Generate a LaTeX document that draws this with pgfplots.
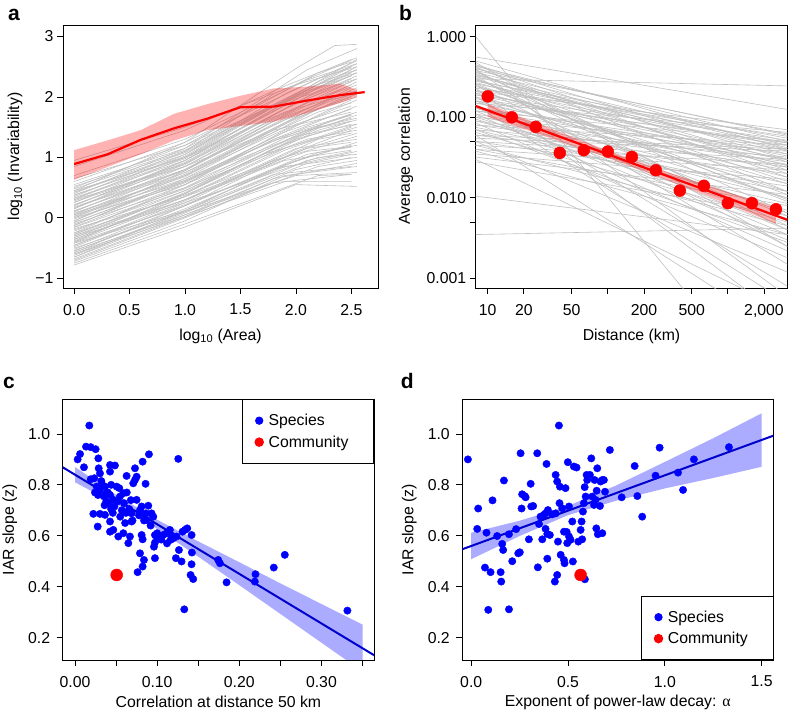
\documentclass[border=0pt]{standalone}
\usepackage{fontspec}
\setmainfont{Liberation Sans}
\newfontfamily\serifgreek{Liberation Serif}
\usepackage{pgfplots}
\pgfplotsset{compat=1.18}
\definecolor{glc}{RGB}{192,192,192}
\definecolor{fitblue}{RGB}{0,0,205}
\pgfplotsset{
  rbase/.style={
    scale only axis, anchor=south west,
    axis line style={line width=0.8pt},
    tick align=outside, xtick pos=bottom, ytick pos=left,
    major tick length=6pt,
    every tick/.style={black, line width=0.8pt},
    ticklabel style={font=\fontsize{15.8}{19}\selectfont},
    xticklabel style={yshift=-6.5pt},
    label style={font=\fontsize{15.8}{19}\selectfont},
    /pgf/number format/assume math mode=true,
    legend cell align=left,
  },
  gl/.style={glc, line width=0.6pt},
  dotleg/.style={legend image code/.code={\draw[##1] plot coordinates {(0pt,0pt)}; \path (-6pt,0pt) (7pt,0pt);}},
  dotlegbig/.style={legend image code/.code={\draw[##1,mark size=4.3pt] plot coordinates {(0pt,0pt)}; \path (-6pt,0pt) (7pt,0pt);}},
  rleg/.style={draw=black, line width=0.8pt, font=\fontsize{15.8}{19}\selectfont,
    inner xsep=10.6pt, inner ysep=12.5pt, row sep=4.5pt},
}
\begin{document}
\begin{tikzpicture}
\useasboundingbox (0pt,0pt) rectangle (788pt,713pt);
% ---------------- panel a ----------------
\begin{axis}[rbase, at={(63pt,425pt)}, width=315pt, height=263pt,
  xmin=-0.10, xmax=2.74, ymin=-1.16, ymax=3.19,
  xtick={0,0.5,1,1.5,2,2.5}, xticklabels={0.0,0.5,1.0,1.5,2.0,2.5},
  ytick={-1,0,1,2,3}, yticklabels={−1,0,1,2,3},
  xlabel={log\textsubscript{10} (Area)},
  ylabel={log\textsubscript{10} (Invariability)},
  xlabel style={at={([yshift=-48pt]axis description cs:0.5,0)}, anchor=center},
  ylabel style={at={([xshift=-48pt]axis description cs:0,0.5)}, anchor=center},
]
\addplot[gl] coordinates {(0,-0.78)(1,-0.15)(2,0.55)(2.55,0.52)};
\addplot[gl] coordinates {(0,-0.70)(1,0.00)(1.8,0.58)(2.5,0.72)};
\addplot[gl] coordinates {(0,-0.65)(1,0.05)(2.2,0.85)(2.55,0.95)};
\addplot[gl] coordinates {(0,-0.60)(1,0.10)(2.1,0.90)(2.5,1.05)};
\addplot[gl] coordinates {(0,-0.55)(1,0.15)(1.9,0.85)(2.55,1.00)};
\addplot[gl] coordinates {(0,-0.52)(1,0.20)(2,0.95)(2.5,1.20)};
\addplot[gl] coordinates {(0,-0.48)(1,0.25)(1.8,0.95)(2.55,1.35)};
\addplot[gl] coordinates {(0,-0.45)(1,0.22)(2.2,1.08)(2.5,1.17)};
\addplot[gl] coordinates {(0,-0.40)(1,0.30)(2.1,1.15)(2.55,1.40)};
\addplot[gl] coordinates {(0,-0.38)(1,0.35)(1.9,1.12)(2.5,1.50)};
\addplot[gl] coordinates {(0,-0.35)(1,0.30)(2,1.15)(2.55,1.30)};
\addplot[gl] coordinates {(0,-0.30)(1,0.40)(1.8,1.15)(2.5,1.60)};
\addplot[gl] coordinates {(0,-0.28)(1,0.45)(2.2,1.48)(2.55,1.70)};
\addplot[gl] coordinates {(0,-0.25)(1,0.38)(2.1,1.15)(2.5,1.25)};
\addplot[gl] coordinates {(0,-0.22)(1,0.50)(1.9,1.32)(2.55,1.75)};
\addplot[gl] coordinates {(0,-0.20)(1,0.45)(2,1.30)(2.5,1.55)};
\addplot[gl] coordinates {(0,-0.15)(1,0.55)(1.8,1.30)(2.55,1.85)};
\addplot[gl] coordinates {(0,-0.12)(1,0.60)(2.2,1.70)(2.5,1.95)};
\addplot[gl] coordinates {(0,-0.10)(1,0.50)(2.1,1.30)(2.55,1.45)};
\addplot[gl] coordinates {(0,-0.08)(1,0.62)(1.9,1.42)(2.5,1.80)};
\addplot[gl] coordinates {(0,-0.05)(1,0.70)(2,1.65)(2.55,2.05)};
\addplot[gl] coordinates {(0,-0.02)(1,0.60)(1.8,1.28)(2.5,1.65)};
\addplot[gl] coordinates {(0,0.00)(1,0.75)(2.2,1.85)(2.55,2.10)};
\addplot[gl] coordinates {(0,0.02)(1,0.65)(2.1,1.50)(2.5,1.70)};
\addplot[gl] coordinates {(0,0.05)(1,0.80)(1.9,1.65)(2.55,2.15)};
\addplot[gl] coordinates {(0,0.08)(1,0.70)(2,1.55)(2.5,1.85)};
\addplot[gl] coordinates {(0,0.10)(1,0.85)(1.8,1.65)(2.55,2.30)};
\addplot[gl] coordinates {(0,0.12)(1,0.75)(2.2,1.75)(2.5,1.90)};
\addplot[gl] coordinates {(0,0.15)(1,0.90)(2.1,2.00)(2.55,2.35)};
\addplot[gl] coordinates {(0,0.18)(1,0.80)(1.9,1.62)(2.5,2.00)};
\addplot[gl] coordinates {(0,0.20)(1,0.95)(2,2.00)(2.55,2.45)};
\addplot[gl] coordinates {(0,0.22)(1,0.85)(1.8,1.60)(2.5,2.10)};
\addplot[gl] coordinates {(0,0.25)(1,1.00)(2.2,2.25)(2.55,2.55)};
\addplot[gl] coordinates {(0,0.28)(1,0.90)(2.1,1.90)(2.5,2.20)};
\addplot[gl] coordinates {(0,0.30)(1,1.05)(1.9,2.05)(2.55,2.60)};
\addplot[gl] coordinates {(0,0.32)(1,0.95)(2,1.90)(2.5,2.25)};
\addplot[gl] coordinates {(0,0.35)(1,1.10)(1.8,2.05)(2.55,2.65)};
\addplot[gl] coordinates {(0,0.38)(1,1.00)(2.2,2.15)(2.5,2.40)};
\addplot[gl] coordinates {(0,0.40)(1,1.15)(2.1,2.45)(2.55,2.80)};
\addplot[gl] coordinates {(0,0.42)(1,1.05)(1.9,1.95)(2.5,2.45)};
\addplot[gl] coordinates {(0,0.45)(1,1.25)(2,2.47)(2.35,2.85)(2.55,2.87)};
\addplot[gl] coordinates {(0,0.48)(1,1.10)(1.8,1.85)(2.55,2.30)};
\addplot[gl] coordinates {(0,0.50)(1,1.20)(2.2,2.40)(2.5,2.58)};
\addplot[gl] coordinates {(0,0.55)(1,1.15)(2.1,2.15)(2.55,2.40)};
\addplot[gl] coordinates {(0,-0.60)(1,0.02)(1.9,0.60)(2.5,0.60)};
\addplot[gl] coordinates {(0,-0.50)(1,0.10)(2,0.70)(2.55,0.75)};
\addplot[gl] coordinates {(0,-0.42)(1,0.12)(1.8,0.72)(2.5,0.85)};
\addplot[gl] coordinates {(0,-0.32)(1,0.25)(2.2,1.00)(2.55,1.05)};
\addplot[gl] coordinates {(0,-0.18)(1,0.35)(2.1,1.10)(2.5,1.18)};
\addplot[gl] coordinates {(0,-0.65)(1,0.12)(1.9,0.88)(2.55,1.25)};
\addplot[gl] coordinates {(0,-0.58)(1,0.20)(2,1.10)(2.5,1.45)};
\addplot[gl] coordinates {(0,-0.05)(1,0.78)(1.8,1.60)(2.55,2.25)};
\addplot[gl] coordinates {(0,0.60)(1,1.25)(2.2,2.30)(2.5,2.50)};
\addplot[gl] coordinates {(0,0.70)(1,1.30)(2.1,2.28)(2.55,2.55)};
\addplot[gl] coordinates {(0,0.85)(1,1.45)(1.9,2.18)(2.5,2.62)};
\addplot[gl] coordinates {(0,0.05)(1,0.62)(2,1.35)(2.55,1.55)};
\addplot[gl] coordinates {(0,0.30)(1,0.85)(1.8,1.45)(2.5,1.75)};
\addplot[gl] coordinates {(0,-0.40)(1,0.40)(2.2,1.45)(2.55,1.62)};
\addplot[gl] coordinates {(0,0.15)(1,0.95)(2.1,2.12)(2.5,2.50)};
\addplot[gl] coordinates {(0,-0.25)(1,0.55)(1.9,1.45)(2.55,1.95)};
\addplot[gl] coordinates {(0,-0.72)(1,-0.05)(1.9,0.70)(2.55,0.85)};
\addplot[gl] coordinates {(0,-0.62)(1,0.08)(2.1,0.95)(2.5,1.10)};
\addplot[gl] coordinates {(0,-0.54)(1,0.12)(1.8,0.80)(2.55,1.10)};
\addplot[gl] coordinates {(0,-0.46)(1,0.28)(2.2,1.30)(2.5,1.40)};
\addplot[gl] coordinates {(0,-0.36)(1,0.36)(1.9,1.15)(2.55,1.55)};
\addplot[gl] coordinates {(0,-0.33)(1,0.42)(2.3,1.60)(2.5,1.72)};
\addplot[gl] coordinates {(0,-0.27)(1,0.40)(1.7,1.05)(2.55,1.50)};
\addplot[gl] coordinates {(0,-0.16)(1,0.48)(2.1,1.45)(2.5,1.60)};
\addplot[gl] coordinates {(0,-0.13)(1,0.65)(2.2,1.80)(2.55,2.00)};
\addplot[gl] coordinates {(0,-0.07)(1,0.58)(1.8,1.30)(2.5,1.70)};
\addplot[gl] coordinates {(0,0.03)(1,0.72)(2.3,1.95)(2.55,2.05)};
\addplot[gl] coordinates {(0,0.07)(1,0.68)(1.9,1.55)(2.5,2.05)};
\addplot[gl] coordinates {(0,0.11)(1,0.80)(2.1,1.90)(2.55,2.20)};
\addplot[gl] coordinates {(0,0.17)(1,0.78)(1.7,1.45)(2.5,2.15)};
\addplot[gl] coordinates {(0,0.21)(1,0.92)(2.2,2.10)(2.55,2.40)};
\addplot[gl] coordinates {(0,0.26)(1,0.88)(1.9,1.80)(2.5,2.30)};
\addplot[gl] coordinates {(0,0.33)(1,0.98)(2.1,2.05)(2.55,2.50)};
\addplot[gl] coordinates {(0,0.37)(1,1.02)(1.8,1.85)(2.5,2.35)};
\addplot[gl] coordinates {(0,0.43)(1,1.08)(2.3,2.30)(2.55,2.45)};
\addplot[gl] coordinates {(0,0.52)(1,1.12)(2.0,2.05)(2.55,2.62)};
\addplot[gl] coordinates {(0,-0.75)(1,-0.10)(2.2,0.70)(2.5,0.72)};
\addplot[gl] coordinates {(0,-0.68)(1,0.02)(1.8,0.65)(2.55,0.90)};
\addplot[gl] coordinates {(0,-0.57)(1,0.05)(2.0,0.80)(2.5,1.00)};
\addplot[gl] coordinates {(0,-0.41)(1,0.20)(2.1,1.05)(2.55,1.20)};
\addplot[gl] coordinates {(0,-0.30)(1,0.30)(1.9,0.95)(2.5,1.12)};
\addplot[gl] coordinates {(0,0.00)(1,0.55)(2.2,1.50)(2.55,1.65)};
\addplot[gl] coordinates {(0,0.45)(1,1.00)(1.9,1.75)(2.55,2.10)};
\addplot[gl] coordinates {(0,0.65)(1,1.20)(2.1,2.10)(2.5,2.35)};
\addplot[gl] coordinates {(0,0.95)(1,1.50)(2.0,2.20)(2.55,2.50)};
\addplot[fill=red, fill opacity=0.3, draw=none] coordinates {
 (0,1.12)(0.3,1.28)(0.6,1.45)(0.9,1.72)(1.2,1.88)(1.5,2.02)(1.8,2.14)(2.1,2.17)(2.4,2.22)(2.55,2.12)
 (2.55,2.00)(2.4,1.90)(2.1,1.73)(1.8,1.59)(1.5,1.52)(1.2,1.45)(0.9,1.28)(0.6,1.05)(0.3,0.84)(0,0.63)} --cycle;
\addplot[red, line width=2.2pt] coordinates {
 (0,0.89)(0.3,1.05)(0.6,1.29)(0.9,1.48)(1.2,1.64)(1.5,1.83)(1.8,1.84)(2.1,1.94)(2.4,2.03)(2.62,2.08)};
\end{axis}
% ---------------- panel b ----------------
\begin{axis}[rbase, at={(475.7pt,425pt)}, width=311.6pt, height=263pt,
  xmode=log, ymode=log,
  xmin=7.94, xmax=3126, ymin=0.00076, ymax=1.397,
  xtick={10,20,50,100,200,500,1000,2000}, xticklabels={10,20,50,,200,500,,{2,000}},
  ytick={0.001,0.005,0.01,0.05,0.1,0.5,1}, yticklabels={0.001,,0.010,,0.100,,1.000},
  minor tick num=0,
  xlabel={Distance (km)},
  ylabel={Average correlation},
  xlabel style={at={([yshift=-48pt]axis description cs:0.5,0)}, anchor=center},
  ylabel style={at={([xshift=-70pt]axis description cs:0,0.5)}, anchor=center},
]
\addplot[gl] coordinates {(7.94,0.45)(3126,0.030)};
\addplot[gl] coordinates {(7.94,0.42)(3126,0.012)};
\addplot[gl] coordinates {(7.94,0.40)(3126,0.060)};
\addplot[gl] coordinates {(7.94,0.38)(3126,0.004)};
\addplot[gl] coordinates {(7.94,0.36)(3126,0.045)};
\addplot[gl] coordinates {(7.94,0.35)(3126,0.020)};
\addplot[gl] coordinates {(7.94,0.33)(3126,0.0015)};
\addplot[gl] coordinates {(7.94,0.32)(3126,0.035)};
\addplot[gl] coordinates {(7.94,0.30)(3126,0.245)};
\addplot[gl] coordinates {(7.94,0.30)(3126,0.009)};
\addplot[gl] coordinates {(7.94,0.28)(3126,0.055)};
\addplot[gl] coordinates {(7.94,0.27)(3126,0.025)};
\addplot[gl] coordinates {(7.94,0.25)(3126,0.0025)};
\addplot[gl] coordinates {(7.94,0.24)(3126,0.040)};
\addplot[gl] coordinates {(7.94,0.22)(3126,0.015)};
\addplot[gl] coordinates {(7.94,0.21)(3126,0.070)};
\addplot[gl] coordinates {(7.94,0.20)(3126,0.006)};
\addplot[gl] coordinates {(7.94,0.19)(3126,0.030)};
\addplot[gl] coordinates {(7.94,0.18)(3126,0.0008)};
\addplot[gl] coordinates {(7.94,0.17)(3126,0.045)};
\addplot[gl] coordinates {(7.94,0.16)(3126,0.018)};
\addplot[gl] coordinates {(7.94,0.15)(3126,0.065)};
\addplot[gl] coordinates {(7.94,0.14)(3126,0.010)};
\addplot[gl] coordinates {(7.94,0.13)(3126,0.035)};
\addplot[gl] coordinates {(7.94,0.12)(3126,0.003)};
\addplot[gl] coordinates {(7.94,0.12)(3126,0.050)};
\addplot[gl] coordinates {(7.94,0.11)(3126,0.022)};
\addplot[gl] coordinates {(7.94,0.10)(3126,0.040)};
\addplot[gl] coordinates {(7.94,0.10)(3126,0.007)};
\addplot[gl] coordinates {(7.94,0.09)(3126,0.028)};
\addplot[gl] coordinates {(7.94,0.085)(3126,0.0018)};
\addplot[gl] coordinates {(7.94,0.08)(3126,0.045)};
\addplot[gl] coordinates {(7.94,0.075)(3126,0.012)};
\addplot[gl] coordinates {(7.94,0.07)(3126,0.032)};
\addplot[gl] coordinates {(7.94,0.065)(3126,0.005)};
\addplot[gl] coordinates {(7.94,0.06)(3126,0.020)};
\addplot[gl] coordinates {(7.94,0.055)(3126,0.038)};
\addplot[gl] coordinates {(7.94,0.05)(3126,0.0012)};
\addplot[gl] coordinates {(7.94,0.05)(3126,0.014)};
\addplot[gl] coordinates {(7.94,0.045)(3126,0.026)};
\addplot[gl] coordinates {(7.94,0.04)(3126,0.008)};
\addplot[gl] coordinates {(7.94,0.038)(3126,0.0035)};
\addplot[gl] coordinates {(7.94,0.035)(3126,0.017)};
\addplot[gl] coordinates {(7.94,0.03)(3126,0.0004)};
\addplot[gl] coordinates {(7.94,0.028)(3126,0.006)};
\addplot[gl] coordinates {(7.94,0.56)(3126,0.125)};
\addplot[gl] coordinates {(7.94,1.0)(3126,0.00002)};
\addplot[gl] coordinates {(7.94,0.0035)(3126,0.0042)};
\addplot[gl] coordinates {(7.94,0.0105)(3126,0.0035)};
\addplot[gl] coordinates {(7.94,0.40)(3126,0.0006)};
\addplot[gl] coordinates {(7.94,0.23)(3126,0.0003)};
\addplot[gl] coordinates {(7.94,0.14)(3126,0.0005)};
\addplot[gl] coordinates {(7.94,0.06)(3126,0.0002)};
\addplot[gl] coordinates {(7.94,0.33)(3126,0.042)};
\addplot[gl] coordinates {(7.94,0.26)(3126,0.048)};
\addplot[gl] coordinates {(7.94,0.19)(3126,0.052)};
\addplot[gl] coordinates {(7.94,0.29)(3126,0.016)};
\addplot[gl] coordinates {(7.94,0.44)(3126,0.022)};
\addplot[gl] coordinates {(7.94,0.11)(3126,0.0022)};
\addplot[gl] coordinates {(7.94,0.16)(3126,0.004)};
\addplot[gl] coordinates {(7.94,0.20)(3126,0.033)};
\addplot[gl] coordinates {(7.94,0.09)(3126,0.010)};
\addplot[gl] coordinates {(7.94,0.07)(3126,0.0028)};
\addplot[gl] coordinates {(7.94,0.38)(3126,0.062)};
\addplot[gl] coordinates {(7.94,0.15)(3126,0.026)};
\addplot[gl] coordinates {(7.94,0.25)(3126,0.011)};
\addplot[gl] coordinates {(7.94,0.13)(3126,0.0065)};
\addplot[gl] coordinates {(7.94,0.43)(3126,0.050)};
\addplot[gl] coordinates {(7.94,0.41)(3126,0.018)};
\addplot[gl] coordinates {(7.94,0.37)(3126,0.0065)};
\addplot[gl] coordinates {(7.94,0.34)(3126,0.028)};
\addplot[gl] coordinates {(7.94,0.31)(3126,0.0045)};
\addplot[gl] coordinates {(7.94,0.29)(3126,0.038)};
\addplot[gl] coordinates {(7.94,0.26)(3126,0.0095)};
\addplot[gl] coordinates {(7.94,0.23)(3126,0.058)};
\addplot[gl] coordinates {(7.94,0.21)(3126,0.024)};
\addplot[gl] coordinates {(7.94,0.18)(3126,0.012)};
\addplot[gl] coordinates {(7.94,0.16)(3126,0.048)};
\addplot[gl] coordinates {(7.94,0.14)(3126,0.0035)};
\addplot[gl] coordinates {(7.94,0.12)(3126,0.030)};
\addplot[gl] coordinates {(7.94,0.105)(3126,0.015)};
\addplot[gl] coordinates {(7.94,0.095)(3126,0.0055)};
\addplot[gl] coordinates {(7.94,0.08)(3126,0.024)};
\addplot[gl] coordinates {(7.94,0.07)(3126,0.0085)};
\addplot[gl] coordinates {(7.94,0.06)(3126,0.040)};
\addplot[gl] coordinates {(7.94,0.05)(3126,0.030)};
\addplot[gl] coordinates {(7.94,0.045)(3126,0.0045)};
\addplot[gl] coordinates {(7.94,0.04)(3126,0.022)};
\addplot[gl] coordinates {(7.94,0.032)(3126,0.011)};
\addplot[gl] coordinates {(7.94,0.50)(3126,0.040)};
\addplot[gl] coordinates {(7.94,0.48)(3126,0.0025)};
\addplot[fill=red, fill opacity=0.3, draw=none] coordinates {
 (10,0.1464)(31.6,0.0746)(100,0.0385)(316,0.02084)(1000,0.01178)(2512,0.00755)
 (2512,0.00476)(1000,0.00834)(316,0.01656)(100,0.0313)(31.6,0.0566)(10,0.1013)} --cycle;
\addplot[red, line width=2.2pt] coordinates {(7.94,0.138)(3126,0.00533)};
\addplot[only marks, mark=*, mark size=6pt, red] coordinates {
 (10,0.182)(15.85,0.100)(25.12,0.076)(39.81,0.0361)(63.1,0.039)(100,0.0375)(158.5,0.0322)
 (251.2,0.022)(398.1,0.0123)(631,0.0141)(1000,0.0086)(1585,0.0086)(2512,0.0072)};
\end{axis}
% ---------------- panel c ----------------
\begin{axis}[rbase, at={(62.7pt,53pt)}, width=311.3pt, height=260.7pt,
  xmin=-0.015, xmax=0.364, ymin=0.112, ymax=1.136,
  xtick={0,0.05,0.1,0.15,0.2,0.25,0.3,0.35}, xticklabels={0.00,,0.10,,0.20,,0.30,},
  ytick={0.2,0.4,0.6,0.8,1.0}, yticklabels={0.2,0.4,0.6,0.8,1.0},
  yticklabel style={xshift=-3pt},
  xlabel={Correlation at distance 50 km},
  ylabel={IAR slope (z)},
  xlabel style={at={([yshift=-42pt]axis description cs:0.5,0)}, anchor=center},
  ylabel style={at={([xshift=-53pt]axis description cs:0,0.5)}, anchor=center},
  legend style={rleg, at={(1,1)}, anchor=north east},
]
\addplot[fill=blue, fill opacity=0.33, draw=none, forget plot] coordinates {
 (0,0.870)(0.05,0.761)(0.1,0.663)(0.15,0.578)(0.2,0.496)(0.25,0.413)(0.3,0.332)(0.35,0.251)
 (0.35,0.067)(0.3,0.180)(0.25,0.293)(0.2,0.406)(0.15,0.518)(0.1,0.627)(0.05,0.725)(0,0.810)} --cycle;
\addplot[fitblue, line width=2pt, forget plot] coordinates {(-0.015,0.869)(0.364,0.131)};
\addplot[only marks, mark=*, mark size=3.7pt, blue, dotleg] coordinates {
 (0.0174,1.033)(0.0032,0.900)(0.0061,0.921)(0.0109,0.869)(0.0134,0.950)(0.0191,0.948)
 (0.0251,0.940)(0.0284,0.904)(0.0191,0.822)(0.0235,0.826)(0.0264,0.793)(0.0243,0.770)
 (0.0288,0.865)(0.0304,0.845)(0.0324,0.806)(0.0365,0.793)(0.0223,0.686)(0.0276,0.636)
 (0.0304,0.686)(0.0365,0.682)(0.0426,0.878)(0.0486,0.876)(0.0426,0.852)(0.0385,0.767)
 (0.0426,0.760)(0.0466,0.741)(0.0405,0.728)(0.0507,0.793)(0.0539,0.787)(0.0547,0.754)
 (0.0588,0.767)(0.0596,0.728)(0.0426,0.656)(0.0426,0.616)(0.0466,0.623)(0.0527,0.597)
 (0.0588,0.610)(0.0628,0.835)(0.0669,0.597)(0.0649,0.571)(0.0689,0.688)(0.0689,0.656)
 (0.0709,0.806)(0.0730,0.819)(0.0750,0.832)(0.0730,0.865)(0.0750,0.741)(0.0791,0.701)
 (0.0811,0.715)(0.0823,0.891)(0.0859,0.804)(0.0900,0.920)(0.0872,0.662)(0.0892,0.718)
 (0.0864,0.688)(0.0932,0.688)(0.0953,0.675)(0.0791,0.531)(0.0811,0.603)(0.0823,0.586)
 (0.0839,0.505)(0.0823,0.479)(0.0762,0.457)(0.0973,0.603)(0.0973,0.573)(0.0961,0.557)
 (0.0993,0.597)(0.1034,0.597)(0.1074,0.603)(0.0973,0.512)(0.1115,0.610)(0.1155,0.623)
 (0.1164,0.584)(0.1196,0.590)(0.1236,0.597)(0.1257,0.902)(0.1228,0.512)(0.1265,0.544)
 (0.1297,0.499)(0.1309,0.616)(0.1338,0.623)(0.1366,0.629)(0.1419,0.603)(0.1423,0.534)
 (0.1419,0.488)(0.1407,0.446)(0.1439,0.430)(0.1330,0.311)(0.1743,0.505)(0.1764,0.492)
 (0.1845,0.417)(0.2197,0.449)(0.2189,0.420)(0.2420,0.475)(0.2554,0.525)(0.3316,0.306)
 (0.030,0.780)(0.035,0.755)(0.038,0.735)(0.044,0.705)(0.048,0.715)(0.052,0.735)
 (0.057,0.700)(0.062,0.690)(0.066,0.705)(0.070,0.660)(0.078,0.680)(0.084,0.660)
 (0.092,0.640)(0.100,0.610)(0.105,0.585)(0.112,0.570)(0.118,0.600)(0.032,0.815)
 (0.040,0.770)(0.046,0.690)(0.055,0.675)(0.061,0.650)(0.068,0.740)(0.036,0.720)
 (0.028,0.760)(0.044,0.800)(0.063,0.770)};
\addlegendentry{Species}
\addplot[only marks, mark=*, mark size=6pt, red, dotlegbig] coordinates {(0.0507,0.446)};
\addlegendentry{Community\hspace*{12.5pt}}
\end{axis}
% ---------------- panel d ----------------
\begin{axis}[rbase, at={(462.3pt,53pt)}, width=311pt, height=260.7pt,
  xmin=-0.046, xmax=1.56, ymin=0.112, ymax=1.136,
  xtick={0,0.5,1,1.5}, xticklabels={0.0,0.5,1.0,1.5},
  ytick={0.2,0.4,0.6,0.8,1.0}, yticklabels={0.2,0.4,0.6,0.8,1.0},
  yticklabel style={xshift=-3pt},
  xlabel={Exponent of power-law decay: {\serifgreek α}},
  ylabel={IAR slope (z)},
  xlabel style={at={([yshift=-42pt]axis description cs:0.5,0)}, anchor=center},
  ylabel style={at={([xshift=-53pt]axis description cs:0,0.5)}, anchor=center},
  legend style={rleg, at={(1,0)}, anchor=south east},
]
\addplot[fill=blue, fill opacity=0.33, draw=none, forget plot] coordinates {
 (0,0.612)(0.25,0.659)(0.5,0.717)(0.75,0.798)(1.0,0.890)(1.25,0.983)(1.5,1.081)
 (1.5,0.871)(1.25,0.827)(1.0,0.786)(0.75,0.738)(0.5,0.681)(0.25,0.599)(0,0.508)} --cycle;
\addplot[fitblue, line width=2pt, forget plot] coordinates {(-0.046,0.547)(1.56,0.993)};
\addplot[only marks, mark=*, mark size=3.7pt, blue, dotleg] coordinates {
 (-0.017,0.900)(0.036,0.707)(0.031,0.627)(0.079,0.612)(0.071,0.475)(0.100,0.457)
 (0.110,0.739)(0.134,0.599)(0.152,0.457)(0.155,0.420)(0.169,0.817)(0.160,0.568)
 (0.165,0.544)(0.212,0.500)(0.195,0.606)(0.232,0.626)(0.243,0.531)(0.251,0.535)
 (0.255,0.924)(0.263,0.763)(0.260,0.707)(0.276,0.756)(0.281,0.751)(0.298,0.586)
 (0.307,0.804)(0.310,0.715)(0.320,0.717)(0.341,0.924)(0.344,0.476)(0.350,0.646)
 (0.358,0.675)(0.367,0.586)(0.375,0.682)(0.384,0.688)(0.389,0.882)(0.384,0.627)
 (0.396,0.701)(0.393,0.607)(0.393,0.510)(0.406,0.603)(0.418,0.684)(0.436,0.839)
 (0.444,0.813)(0.436,0.688)(0.432,0.420)(0.444,0.446)(0.448,0.577)(0.453,1.033)
 (0.456,0.728)(0.458,0.793)(0.462,0.525)(0.470,0.708)(0.479,0.505)(0.482,0.492)
 (0.487,0.787)(0.479,0.616)(0.493,0.615)(0.496,0.571)(0.499,0.889)(0.505,0.715)
 (0.505,0.597)(0.513,0.584)(0.522,0.656)(0.525,0.499)(0.530,0.872)(0.544,0.868)
 (0.553,0.577)(0.565,0.623)(0.570,0.656)(0.573,0.586)(0.577,0.695)(0.582,0.728)
 (0.586,0.791)(0.591,0.754)(0.596,0.839)(0.599,0.819)(0.613,0.839)(0.620,0.904)
 (0.625,0.754)(0.637,0.819)(0.634,0.721)(0.642,0.741)(0.646,0.629)(0.648,0.777)
 (0.651,0.865)(0.654,0.606)(0.665,0.717)(0.668,0.813)(0.677,0.819)(0.685,0.819)
 (0.691,0.773)(0.677,0.610)(0.716,0.937)(0.777,0.751)(0.844,0.874)(0.858,0.756)
 (0.883,0.675)(0.952,0.836)(0.973,0.946)(1.068,0.848)(1.094,0.780)(1.150,0.900)
 (1.331,0.948)(0.587,0.429)(0.088,0.309)(0.195,0.311)};
\addlegendentry{Species}
\addplot[only marks, mark=*, mark size=6pt, red, dotlegbig] coordinates {(0.565,0.446)};
\addlegendentry{Community\hspace*{12.5pt}}
\end{axis}
% panel letters
\node[anchor=base west, font=\fontsize{21}{24}\selectfont\bfseries, inner sep=0pt] at (8pt,692.5pt) {a};
\node[anchor=base west, font=\fontsize{21}{24}\selectfont\bfseries, inner sep=0pt] at (399pt,692.5pt) {b};
\node[anchor=base west, font=\fontsize{21}{24}\selectfont\bfseries, inner sep=0pt] at (3pt,324.7pt) {c};
\node[anchor=base west, font=\fontsize{21}{24}\selectfont\bfseries, inner sep=0pt] at (400.7pt,324.7pt) {d};
\end{tikzpicture}
\end{document}
